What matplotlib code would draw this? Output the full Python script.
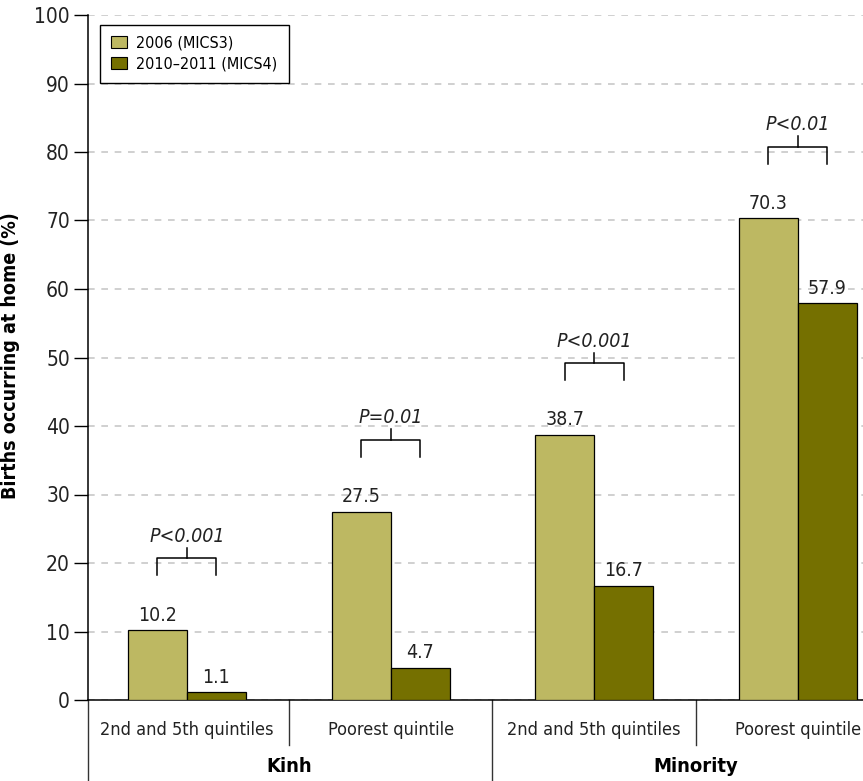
import numpy as np
import matplotlib.pyplot as plt
from matplotlib.patches import Patch
from matplotlib.transforms import blended_transform_factory

plt.rcParams['font.family'] = ['DejaVu Sans']
plt.rcParams['font.stretch'] = 'condensed'

quintiles = ["2nd and 5th quintiles", "Poorest quintile",
             "2nd and 5th quintiles", "Poorest quintile"]
groups = ["Kinh", "Minority"]
series = ["2006 (MICS3)", "2010\u20132011 (MICS4)"]
mics3 = [10.2, 27.5, 38.7, 70.3]
mics4 = [1.1, 4.7, 16.7, 57.9]
pvalues = ["P<0.001", "P=0.01", "P<0.001", "P<0.01"]

c_light = "#bdb862"
c_dark = "#757000"

fig = plt.figure(figsize=(8.63, 7.81), dpi=100)
ax = fig.add_axes([88 / 863, 81 / 781, 775 / 863, 685 / 781])

x = np.arange(len(quintiles))
w = 0.29
b1 = ax.bar(x - w / 2, mics3, w, color=c_light, edgecolor="black", linewidth=0.9, zorder=3)
b2 = ax.bar(x + w / 2, mics4, w, color=c_dark, edgecolor="black", linewidth=0.9, zorder=3)

for bars, vals in ((b1, mics3), (b2, mics4)):
    for r, v in zip(bars, vals):
        ax.annotate(f"{v:.1f}", (r.get_x() + r.get_width() / 2, v),
                    xytext=(0, 4), textcoords="offset points",
                    ha="center", va="bottom", fontsize=14, color="#222222", zorder=4)

# significance brackets
for i, p in enumerate(pvalues):
    top = max(mics3[i], mics4[i]) + 10.5
    xl, xr = x[i] - w / 2, x[i] + w / 2
    ax.plot([xl, xl, xr, xr], [top - 2.5, top, top, top - 2.5], color="black", lw=1.1, zorder=4)
    ax.plot([x[i], x[i]], [top, top + 1.5], color="black", lw=1.1, zorder=4)
    ax.text(x[i], top + 1.8, p, ha="center", va="bottom", fontsize=14,
            style="italic", color="#222222", zorder=4)

ax.set_xlim(-0.486, 3.32)
ax.set_ylim(0, 100)
ax.set_yticks(np.arange(0, 101, 10))
ax.tick_params(axis="y", direction="out", length=10, width=1, labelsize=15, pad=3,
               labelcolor="#222222")
ax.set_xticks([])
ax.yaxis.grid(True, linestyle=(0, (4, 4)), color="#c8c8c8", linewidth=1.2, zorder=0)
for s in ("top", "right"):
    ax.spines[s].set_visible(False)
ax.spines["bottom"].set_linewidth(1.1)
ax.spines["left"].set_linewidth(1.1)

# category labels below axis
tr = blended_transform_factory(ax.transData, ax.transAxes)
for i, q in enumerate(quintiles):
    ax.text(x[i], -30 / 685, q, transform=tr, ha="center", va="center", fontsize=13,
            color="#222222")
for j, g in enumerate(groups):
    ax.text(x[2 * j] + 0.5, -67 / 685, g, transform=tr, ha="center", va="center",
            fontsize=14.5, fontweight="bold")
for xs in (0.5, 2.5):
    ax.plot([xs, xs], [0, -45 / 685], transform=tr, color="#333333", lw=1, clip_on=False)
for xs in (-0.486, 1.5):
    ax.plot([xs, xs], [0, -81 / 685], transform=tr, color="#333333", lw=1, clip_on=False)

fig.text(11 / 863, 0.545, "Births occurring at home (%)", rotation=90,
         ha="center", va="center", fontsize=14, fontweight="bold")

handles = [Patch(facecolor=c_light, edgecolor="black", linewidth=0.8),
           Patch(facecolor=c_dark, edgecolor="black", linewidth=0.8)]
leg = ax.legend(handles, series, loc="upper left", bbox_to_anchor=(0.015, 0.986),
                borderaxespad=0, fontsize=11.5, fancybox=False, framealpha=1,
                edgecolor="black", handlelength=1.0, handleheight=0.8, handletextpad=0.6,
                borderpad=0.7, labelspacing=0.35)
leg.get_frame().set_linewidth(1)

fig.savefig("out.png", dpi=100)
